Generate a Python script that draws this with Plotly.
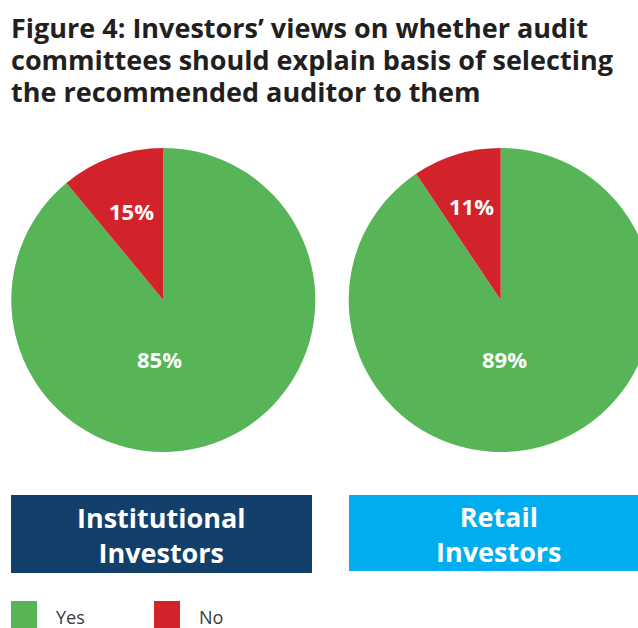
import plotly.graph_objects as go

# ---- data ----
answers = ["Yes", "No"]
institutional_share = [89.0, 11.0]      # wedge sizes as drawn
retail_share = [90.6, 9.4]
institutional_labels = ["85%", "15%"]   # printed labels
retail_labels = ["89%", "11%"]
group_names = ["Institutional<br>Investors", "Retail<br>Investors"]
title_lines = [
    "Figure 4: Investors’ views on whether audit",
    "committees should explain basis of selecting",
    "the recommended auditor to them",
]

GREEN = "#57B457"
RED = "#D2232A"
NAVY = "#133F6B"
CYAN = "#00AEEF"
FONT = "Open Sans"

W, H = 656, 628

def px(x):
    return x / W

def py(y):
    return 1 - y / H

fig = go.Figure()

# label anchor points inside each pie (pixel offsets from pie centre)
label_offsets = [(-4, 59), (-32, -89)]   # (Yes, No)

def add_pie(values, labels, cx, cy, r, name, offsets):
    fig.add_trace(go.Pie(
        labels=answers, values=values, textinfo="none",
        marker=dict(colors=[GREEN, RED], line=dict(width=0)),
        sort=False, direction="clockwise", rotation=0,
        domain=dict(x=[px(cx - r), px(cx + r)], y=[py(cy + r), py(cy - r)]),
        showlegend=False, hoverinfo="label+percent", name=name,
    ))
    for lab, (dx, dy) in zip(labels, offsets):
        fig.add_annotation(text="<b>" + lab + "</b>", x=px(cx + dx), y=py(cy + dy),
                           xref="paper", yref="paper", showarrow=False,
                           xanchor="center", yanchor="middle",
                           font=dict(family=FONT, size=22, color="white"))

add_pie(institutional_share, institutional_labels, 163.3, 300, 152, "Institutional",
        [(-4, 59), (-32, -89)])
add_pie(retail_share, retail_labels, 500.7, 300, 152, "Retail",
        [(4, 59), (-29, -94)])

shapes = [
    dict(type="rect", xref="paper", yref="paper", x0=px(11), x1=px(312), y0=py(573), y1=py(495),
         fillcolor=NAVY, line=dict(width=0)),
    dict(type="rect", xref="paper", yref="paper", x0=px(349), x1=1, y0=py(571), y1=py(495),
         fillcolor=CYAN, line=dict(width=0)),
    dict(type="rect", xref="paper", yref="paper", x0=px(11), x1=px(37), y0=py(640), y1=py(601),
         fillcolor=GREEN, line=dict(width=0)),
    dict(type="rect", xref="paper", yref="paper", x0=px(154), x1=px(180), y0=py(640), y1=py(601),
         fillcolor=RED, line=dict(width=0)),
]

for i, line in enumerate(title_lines):
    fig.add_annotation(
        text="<b>" + line + "</b>", x=px(9), y=py(28 + i * 31.5), xref="paper", yref="paper",
        xanchor="left", yanchor="middle", showarrow=False,
        font=dict(family=FONT, size=27, color="#231F20"),
    )

fig.add_annotation(text="<b>" + group_names[0] + "</b>", x=px(161.5), y=py(534.5), xref="paper", yref="paper",
                   xanchor="center", yanchor="middle", showarrow=False,
                   font=dict(family=FONT, size=27, color="white"))
fig.add_annotation(text="<b>" + group_names[1] + "</b>", x=px(499), y=py(534), xref="paper", yref="paper",
                   xanchor="center", yanchor="middle", showarrow=False,
                   font=dict(family=FONT, size=27, color="white"))
fig.add_annotation(text=answers[0], x=px(54), y=py(617), xref="paper", yref="paper",
                   xanchor="left", yanchor="middle", showarrow=False,
                   font=dict(family=FONT, size=18, color="#3A3A3A"))
fig.add_annotation(text=answers[1], x=px(197), y=py(617), xref="paper", yref="paper",
                   xanchor="left", yanchor="middle", showarrow=False,
                   font=dict(family=FONT, size=18, color="#3A3A3A"))

fig.update_layout(
    width=W, height=H, autosize=False,
    margin=dict(l=0, r=0, t=0, b=0),
    paper_bgcolor="white", plot_bgcolor="white",
    shapes=shapes,
)

fig.write_html("out.html", config={"displayModeBar": False},
               post_script="document.documentElement.style.overflow='hidden';"
                           "document.body.style.overflow='hidden';"
                           "document.body.style.margin='0';")
